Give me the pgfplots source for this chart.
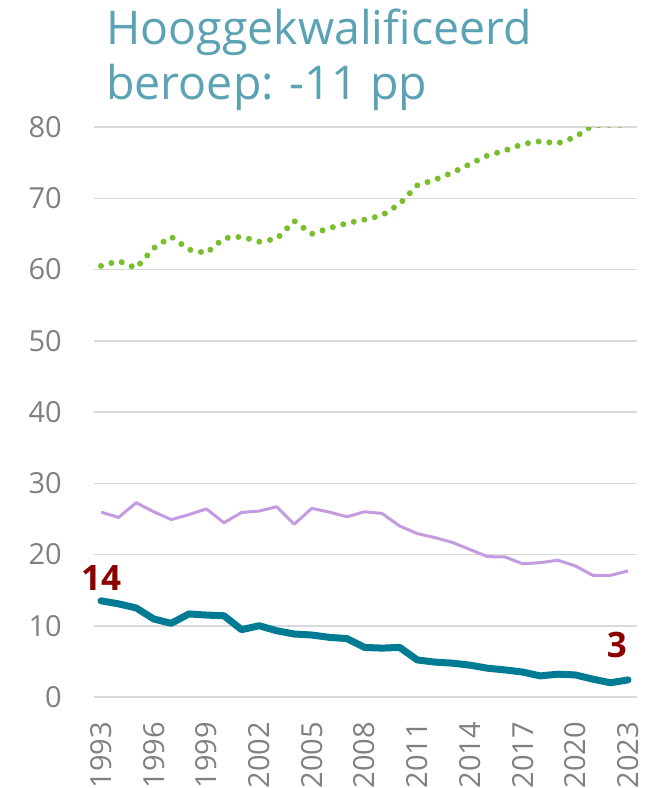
\documentclass[border=0pt]{standalone}
\usepackage{fontspec}
\setmainfont{Open Sans}
\usepackage{pgfplots}
\pgfplotsset{compat=1.18}
\definecolor{titlecol}{RGB}{91,163,180}
\definecolor{tealline}{RGB}{0,123,148}
\definecolor{purpleline}{RGB}{195,155,225}
\definecolor{greenline}{RGB}{120,190,45}
\definecolor{labelred}{RGB}{140,0,0}
\definecolor{tickgray}{RGB}{128,128,128}
\definecolor{gridgray}{RGB}{217,217,217}
\pgfplotstableread{
year green purple teal
1993 60.5 25.95 13.5
1994 61.2 25.2 13.07
1995 60.2 27.27 12.5
1996 63.0 26.0 10.95
1997 64.6 24.9 10.34
1998 62.8 25.6 11.66
1999 62.3 26.4 11.5
2000 64.4 24.45 11.4
2001 64.6 25.9 9.45
2002 63.9 26.1 10.0
2003 64.3 26.7 9.3
2004 66.8 24.26 8.84
2005 65.0 26.47 8.7
2006 65.8 25.95 8.37
2007 66.5 25.3 8.2
2008 67.0 26.0 6.96
2009 67.6 25.76 6.86
2010 69.2 24.0 6.96
2011 71.8 22.94 5.2
2012 72.6 22.38 4.9
2013 73.6 21.7 4.75
2014 74.8 20.7 4.47
2015 76.0 19.7 4.04
2016 76.7 19.65 3.8
2017 77.6 18.7 3.5
2018 78.0 18.85 2.96
2019 77.7 19.2 3.2
2020 78.6 18.4 3.1
2021 80.25 17.07 2.5
2022 80.3 17.07 2.0
2023 80.3 17.7 2.4
}\datatable
\begin{document}
\begin{tikzpicture}
\begin{axis}[
  at={(94pt,91pt)}, anchor=south west,
  scale only axis, width=543pt, height=570pt,
  xmin=1992.6, xmax=2023.51, ymin=0, ymax=80,
  clip mode=individual,
  axis line style={draw=none},
  major tick length=0pt,
  ytick={0,10,...,80},
  xtick={1993,1996,...,2023},
  ymajorgrids,
  grid style={draw=gridgray, line width=1.5pt},
  /pgf/number format/assume math mode=true,
  /pgf/number format/1000 sep={},
  yticklabel style={font=\fontsize{29}{34}\selectfont, text=tickgray, anchor=east, inner sep=0pt},
  yticklabel shift=32pt,
  xticklabel style={font=\fontsize{29}{34}\selectfont, text=tickgray, rotate=90, anchor=east, inner sep=0pt},
  xticklabel shift=25pt,
]
\addplot[purpleline, line width=3pt, line join=round] table[x=year, y=purple] {\datatable};
\addplot[tealline, line width=7pt, line join=round, line cap=round] table[x=year, y=teal] {\datatable};
\addplot[greenline, line width=6pt, line cap=round, dash pattern=on 0pt off 10.8pt] table[x=year, y=green] {\datatable};
\node[text=labelred, font=\fontsize{35}{40}\selectfont\bfseries, inner sep=0pt] at (axis cs:1993,16.7) {14};
\node[text=labelred, font=\fontsize{35}{40}\selectfont\bfseries, inner sep=0pt] at (axis cs:2022.37,7.3) {3};
\end{axis}
\node[anchor=base west, inner sep=0pt, text=titlecol, font=\fontsize{46.5}{55}\selectfont] at (106pt,743pt) {Hooggekwalificeerd};
\node[anchor=base west, inner sep=0pt, text=titlecol, font=\fontsize{46.5}{55}\selectfont] at (106pt,688pt) {beroep: -11 pp};
\pgfresetboundingbox
\useasboundingbox (0,0) rectangle (654pt,788pt);
\end{tikzpicture}
\end{document}
